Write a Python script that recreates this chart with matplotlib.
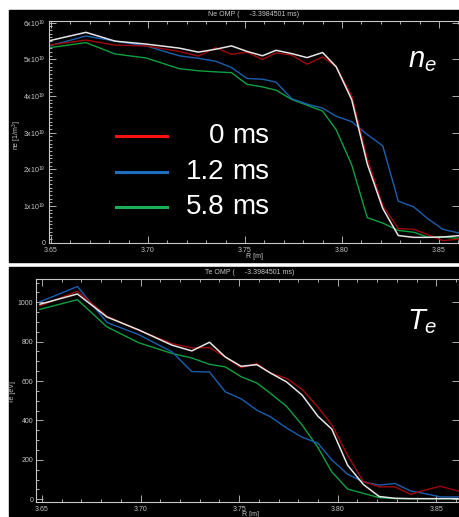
import matplotlib
matplotlib.use('Agg')
import matplotlib.pyplot as plt
from matplotlib.patches import Rectangle
from matplotlib.ticker import MultipleLocator, FixedLocator
import numpy as np

plt.rcParams['font.family'] = ['Liberation Sans', 'DejaVu Sans']
plt.rcParams['mathtext.fontset'] = 'custom'
plt.rcParams['mathtext.rm'] = 'Liberation Sans'
plt.rcParams['mathtext.it'] = 'Liberation Sans:italic'

# major radius grid [m]
R = [3.649, 3.668, 3.683, 3.699, 3.716, 3.726, 3.735, 3.743, 3.751, 3.759, 3.766, 3.774,
     3.782, 3.790, 3.797, 3.805, 3.813, 3.821, 3.829, 3.837, 3.844, 3.852, 3.861]

# electron density [1e19 m^-3]
ne_fit = [5.51, 5.74, 5.50, 5.42, 5.31, 5.20, 5.28, 5.37, 5.22, 5.10, 5.25, 5.16,
          5.05, 5.19, 4.80, 3.90, 2.15, 0.93, 0.19, 0.14, 0.14, 0.15, 0.19]
ne_0 = [5.39, 5.53, 5.39, 5.37, 5.22, 5.09, 5.32, 5.14, 5.20, 5.00, 5.18, 5.12,
        4.87, 5.07, 4.80, 4.00, 2.30, 1.01, 0.38, 0.36, 0.22, 0.05, 0.10]
ne_12 = [5.37, 5.64, 5.50, 5.37, 5.10, 5.03, 4.95, 4.78, 4.48, 4.46, 4.38, 3.93,
         3.78, 3.67, 3.45, 3.30, 2.95, 2.64, 1.13, 0.97, 0.66, 0.36, 0.25]
ne_58 = [5.32, 5.46, 5.15, 5.04, 4.75, 4.69, 4.66, 4.64, 4.32, 4.25, 4.16, 3.91,
         3.75, 3.59, 3.08, 2.12, 0.68, 0.53, 0.33, 0.28, 0.15, 0.15, 0.11]

# electron temperature [eV]
te_fit = [990, 1042, 925, 860, 782, 753, 797, 722, 675, 683, 640, 596,
          528, 421, 356, 173, 75, 14, 5, 3, 3, 3, 3]
te_0 = [981, 1056, 929, 858, 790, 768, 770, 722, 668, 689, 640, 614,
        558, 467, 378, 223, 90, 63, 63, 25, 46, 66, 42]
te_12 = [1002, 1080, 897, 836, 748, 648, 646, 545, 510, 452, 418, 362,
         315, 284, 200, 127, 88, 72, 80, 42, 29, 12, 12]
te_58 = [964, 1013, 875, 795, 740, 717, 685, 672, 622, 590, 537, 472,
         376, 262, 139, 52, 30, 8, 3, 3, 3, 3, 3]

labels = ['0', '1.2', '5.8']
legend_colors = ['#ff1010', '#1f6fc0', '#18b050']
line_colors = ['#a00808', '#1a5fae', '#10a040']
fit_color = '#e6e6e6'
fg = '#c8c8c8'

W, H = 459, 517
fig = plt.figure(figsize=(W / 100, H / 100), dpi=100)
fig.patch.set_facecolor('white')


def fx(px):
    return px / W


def fy(py):
    return 1 - py / H


# black panels
for y0, y1 in [(10, 262), (267, 516)]:
    fig.patches.append(Rectangle((fx(9), fy(y1)), fx(459) - fx(9), fy(y0) - fy(y1),
                                 transform=fig.transFigure, color='black', zorder=-5))


def style_axes(ax):
    ax.set_facecolor('black')
    for s in ax.spines.values():
        s.set_color(fg)
        s.set_linewidth(0.8)
    ax.tick_params(which='both', direction='in', top=True, right=True, colors=fg,
                   labelsize=5, labelcolor=fg, width=0.6, pad=2)
    ax.tick_params(which='major', length=5)
    ax.tick_params(which='minor', length=2.5)
    ax.xaxis.set_major_locator(MultipleLocator(0.05))
    ax.xaxis.set_minor_locator(MultipleLocator(0.01))


# ---- density panel
ax1 = fig.add_axes([fx(48.5), fy(242.5), fx(459) - fx(48.5), fy(21) - fy(242.5)])
style_axes(ax1)
ax1.set_xlim(3.6487, 3.8603)
ax1.set_ylim(0, 6.05)
for vals, c in zip([ne_58, ne_12, ne_0], line_colors[::-1]):
    ax1.plot(R, vals, color=c, lw=1.0)
ax1.plot(R, ne_fit, color=fit_color, lw=1.1)
ax1.yaxis.set_major_locator(FixedLocator([0, 1, 2, 3, 4, 5, 6]))
ax1.yaxis.set_minor_locator(MultipleLocator(0.1))
ax1.set_yticklabels(['0'] + ['%dx10$^{19}$' % i for i in range(1, 7)])
ax1.set_xticks([3.65, 3.70, 3.75, 3.80, 3.85])
ax1.set_xticklabels(['3.65', '3.70', '3.75', '3.80', '3.85'])
ax1.tick_params(axis='x', pad=3)
ax1.tick_params(axis='y', which='minor', right=False)
fig.text(fx(254), fy(15), 'Ne OMP (     -3.3984501 ms)', color=fg, fontsize=5,
         ha='center', va='center')
fig.text(fx(254), fy(257), 'R [m]', color=fg, fontsize=5, ha='center', va='center')
fig.text(fx(17), fy(135), 'ne [1/m$^3$]', color=fg, fontsize=5, rotation=90,
         ha='center', va='center')
fig.text(fx(422), fy(60), '$n_e$', color='white', fontsize=21, ha='center', va='center')

# legend
for i, (lab, c) in enumerate(zip(labels, legend_colors)):
    yy = [136, 172, 207][i]
    fig.add_artist(plt.Line2D([fx(116), fx(167)], [fy(yy), fy(yy)], color=c, lw=2.2,
                              transform=fig.transFigure))
    fig.text(fx(224), fy(yy), lab, color='white', fontsize=20, ha='right', va='center')
    fig.text(fx(232), fy(yy), 'ms', color='white', fontsize=20, ha='left', va='center')

# ---- temperature panel
ax2 = fig.add_axes([fx(36), fy(502), fx(459) - fx(36), fy(279) - fy(502)])
style_axes(ax2)
ax2.set_xlim(3.647, 3.8615)
ax2.set_ylim(-14, 1118)
for vals, c in zip([te_58, te_12, te_0], line_colors[::-1]):
    ax2.plot(R, vals, color=c, lw=1.0)
ax2.plot(R, te_fit, color=fit_color, lw=1.1)
ax2.yaxis.set_major_locator(MultipleLocator(200))
ax2.yaxis.set_minor_locator(MultipleLocator(50))
ax2.set_xticks([3.65, 3.70, 3.75, 3.80, 3.85])
ax2.set_xticklabels(['3.65', '3.70', '3.75', '3.80', '3.85'])
ax2.tick_params(axis='x', pad=3)
ax2.tick_params(axis='y', which='minor', right=False)
fig.text(fx(250), fy(272), 'Te OMP (     -3.3984501 ms)', color=fg, fontsize=5,
         ha='center', va='center')
fig.text(fx(250), fy(515), 'R [m]', color=fg, fontsize=5, ha='center', va='center')
fig.text(fx(12), fy(392), 'Te [eV]', color=fg, fontsize=5, rotation=90,
         ha='center', va='center')
fig.text(fx(422), fy(322), '$T_e$', color='white', fontsize=21, ha='center', va='center')

fig.savefig('out.png', dpi=100, facecolor='white')
